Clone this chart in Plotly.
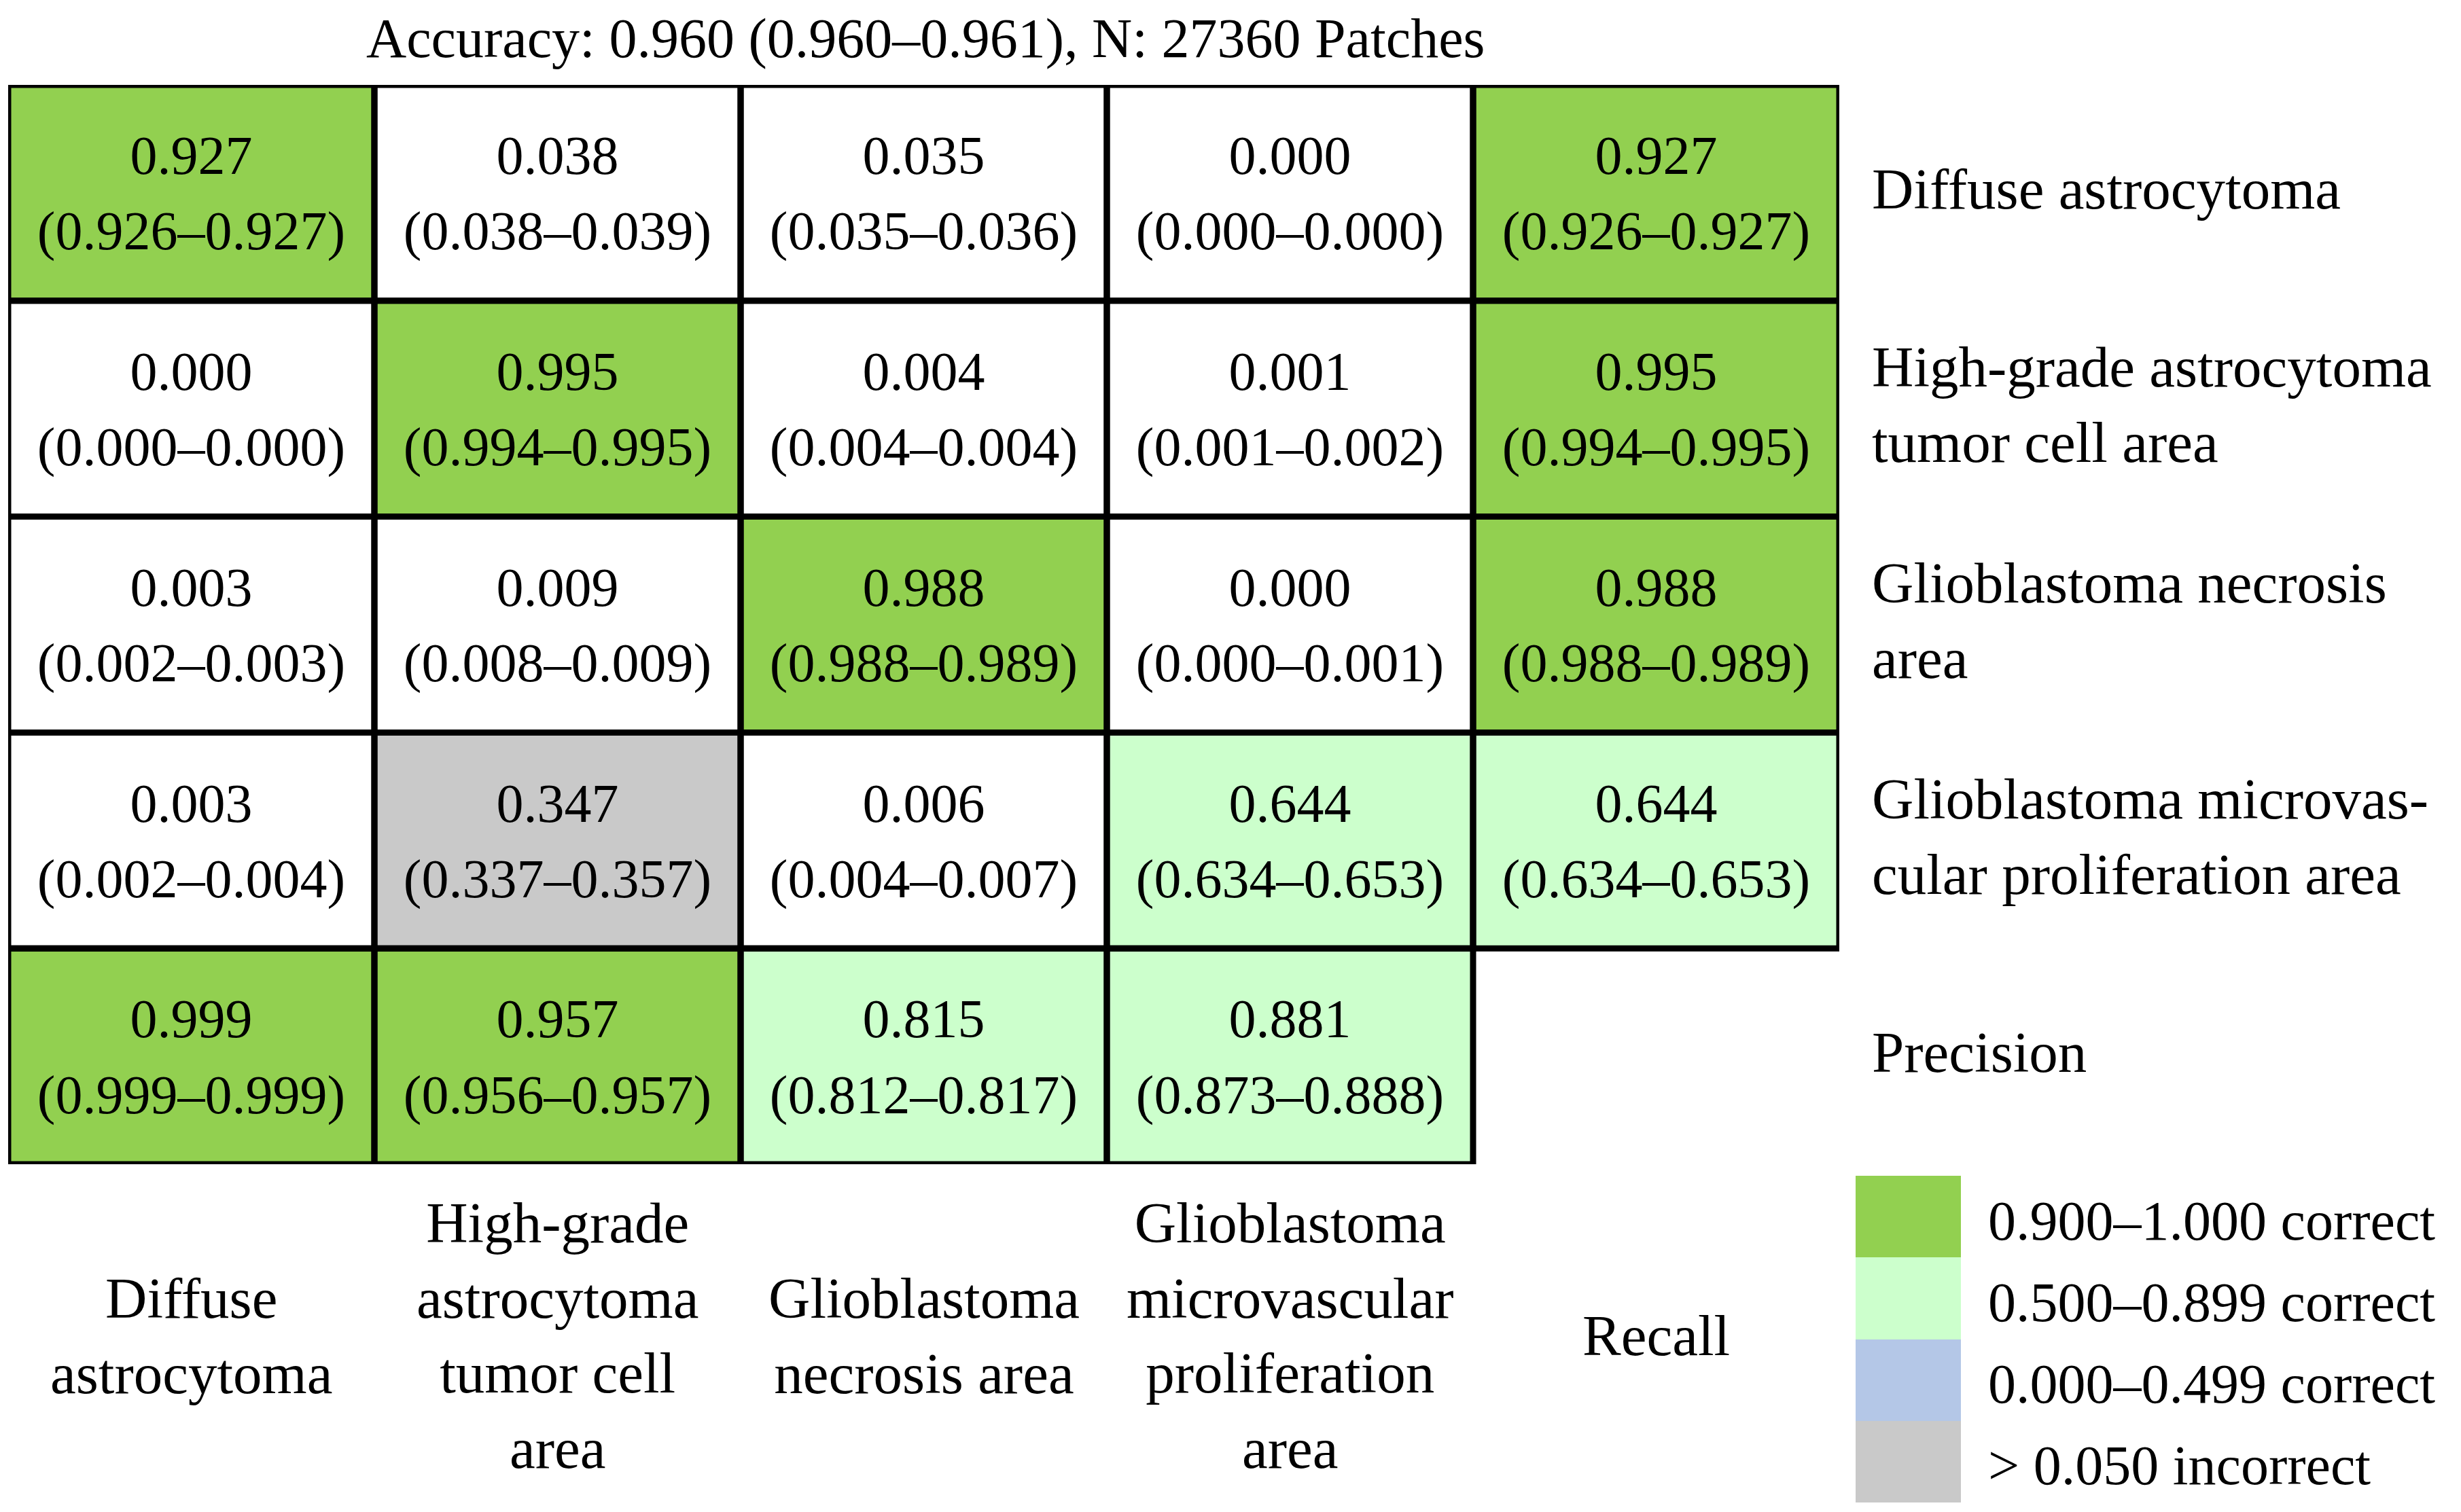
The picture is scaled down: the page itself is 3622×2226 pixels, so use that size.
import plotly.graph_objects as go

W, H = 3622, 2226          # window size
OX, OY = 8, 8              # page body margin
FW, FH = W - 2 * OX, H - 2 * OY
FONT = "'Liberation Serif', 'Times New Roman', Times, 'DejaVu Serif', serif"

title_text = "Accuracy: 0.960 (0.960–0.961), N: 27360 Patches"

row_labels = [
    "Diffuse astrocytoma",
    "High-grade astrocytoma<br>tumor cell area",
    "Glioblastoma necrosis<br>area",
    "Glioblastoma microvas-<br>cular proliferation area",
    "Precision",
]
col_labels = [
    "Diffuse<br>astrocytoma",
    "High-grade<br>astrocytoma<br>tumor cell<br>area",
    "Glioblastoma<br>necrosis area",
    "Glioblastoma<br>microvascular<br>proliferation<br>area",
    "Recall",
]

# rows: true class (last row = precision); columns: predicted class (last column = recall)
values = [
    [0.927, 0.038, 0.035, 0.000, 0.927],
    [0.000, 0.995, 0.004, 0.001, 0.995],
    [0.003, 0.009, 0.988, 0.000, 0.988],
    [0.003, 0.347, 0.006, 0.644, 0.644],
    [0.999, 0.957, 0.815, 0.881, None],
]
ci_low = [
    [0.926, 0.038, 0.035, 0.000, 0.926],
    [0.000, 0.994, 0.004, 0.001, 0.994],
    [0.002, 0.008, 0.988, 0.000, 0.988],
    [0.002, 0.337, 0.004, 0.634, 0.634],
    [0.999, 0.956, 0.812, 0.873, None],
]
ci_high = [
    [0.927, 0.039, 0.036, 0.000, 0.927],
    [0.000, 0.995, 0.004, 0.002, 0.995],
    [0.003, 0.009, 0.989, 0.001, 0.989],
    [0.004, 0.357, 0.007, 0.653, 0.653],
    [0.999, 0.957, 0.817, 0.888, None],
]

legend_labels = ["0.900–1.000 correct", "0.500–0.899 correct",
                 "0.000–0.499 correct", "> 0.050 incorrect"]
legend_codes = [1, 2, 3, 4]

# colour classes: 0 white, 1 green, 2 light green, 3 blue, 4 gray
class_colors = ["#FFFFFF", "#92D050", "#CCFFCC", "#B4C7E7", "#C9C9C9"]
colorscale = []
for i, col in enumerate(class_colors):
    colorscale.append([i / 5, col])
    colorscale.append([(i + 1) / 5, col])

n = len(values)


def code_for(r, c, v):
    if v is None:
        return None
    correct = (r == c) or (r == n - 1) or (c == n - 1)
    if correct:
        if v >= 0.9:
            return 1
        if v >= 0.5:
            return 2
        return 3
    return 4 if v > 0.05 else 0


def px_x(x):
    return (x - OX) / FW


def px_y(y):
    return 1 - (y - OY) / FH


z = [[code_for(r, c, values[r][c]) for c in range(n)] for r in range(n)]

fig = go.Figure()
fig.add_trace(go.Heatmap(
    z=z, x=list(range(n)), y=list(range(n)),
    colorscale=colorscale, zmin=-0.5, zmax=4.5, showscale=False,
    hoverinfo="skip", xaxis="x", yaxis="y",
))

vx, vy, vt, cx, cy, ct = [], [], [], [], [], []
for r in range(n):
    for c in range(n):
        v = values[r][c]
        if v is None:
            continue
        vx.append(c); vy.append(r - 0.15); vt.append(f"{v:.3f}")
        cx.append(c); cy.append(r + 0.2)
        ct.append(f"({ci_low[r][c]:.3f}–{ci_high[r][c]:.3f})")

for xs, ys, ts in [(vx, vy, vt), (cx, cy, ct)]:
    fig.add_trace(go.Scatter(
        x=xs, y=ys, text=ts, mode="text", textposition="middle center",
        textfont=dict(family=FONT, size=80, color="black"),
        hoverinfo="skip", showlegend=False, xaxis="x", yaxis="y",
    ))

# legend as a small heatmap
fig.add_trace(go.Heatmap(
    z=[[k] for k in legend_codes], x=[0], y=list(range(len(legend_codes))),
    colorscale=colorscale, zmin=-0.5, zmax=4.5, showscale=False,
    hoverinfo="skip", xaxis="x2", yaxis="y2",
))

shapes = []
for r in range(n):
    for c in range(n):
        if values[r][c] is None:
            continue
        shapes.append(dict(type="rect", xref="x", yref="y",
                           x0=c - 0.5, x1=c + 0.5, y0=r - 0.5, y1=r + 0.5,
                           line=dict(color="black", width=9), layer="above"))

annotations = [dict(text=title_text, xref="paper", x=px_x(1362), xanchor="center",
                    yref="paper", y=px_y(56), yanchor="middle", showarrow=False,
                    font=dict(family=FONT, size=82, color="black"))]
for r, lab in enumerate(row_labels):
    annotations.append(dict(text=lab, xref="x domain", x=1, xanchor="left", xshift=46,
                            yref="y", y=r, yanchor="middle", yshift=6, align="left",
                            showarrow=False, font=dict(family=FONT, size=85, color="black")))
for c, lab in enumerate(col_labels):
    annotations.append(dict(text=lab, xref="x", x=c, xanchor="center",
                            yref="y domain", y=0, yanchor="middle", yshift=-252,
                            align="center", showarrow=False,
                            font=dict(family=FONT, size=85, color="black")))
for i, lab in enumerate(legend_labels):
    annotations.append(dict(text=lab, xref="x2 domain", x=1, xanchor="left", xshift=38,
                            yref="y2", y=i, yanchor="middle", yshift=-6, align="left",
                            showarrow=False, font=dict(family=FONT, size=82, color="black")))

hidden = dict(visible=False, showgrid=False, zeroline=False, fixedrange=True)
fig.update_layout(
    width=FW, height=FH, autosize=False,
    margin=dict(l=0, r=0, t=0, b=0, pad=0),
    paper_bgcolor="white", plot_bgcolor="white",
    font=dict(family=FONT, color="black"),
    xaxis=dict(domain=[px_x(12), px_x(2707)], range=[-0.5, n - 0.5], anchor="y", **hidden),
    yaxis=dict(domain=[px_y(1714), px_y(125)], range=[n - 0.5, -0.5], anchor="x", **hidden),
    xaxis2=dict(domain=[px_x(2731), px_x(2886)], range=[-0.5, 0.5], anchor="y2", **hidden),
    yaxis2=dict(domain=[px_y(2212), px_y(1731)], range=[len(legend_codes) - 0.5, -0.5],
                anchor="x2", **hidden),
    shapes=shapes, annotations=annotations, showlegend=False,
)

fig.write_html("out.html")
